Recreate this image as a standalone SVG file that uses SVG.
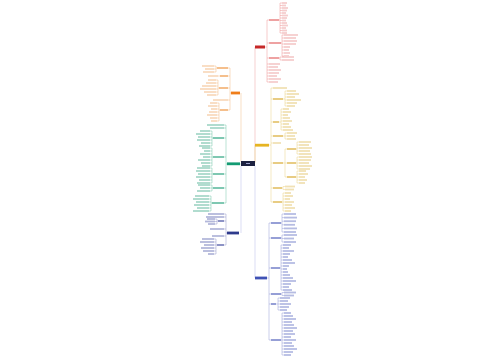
<svg xmlns="http://www.w3.org/2000/svg" width="500" height="360" viewBox="0 0 500 360">
<style>
.c{fill:none;stroke-width:.45}
.cr{stroke:#ec8a8a}.cy{stroke:#ead07a}.cb{stroke:#8a94d4}.co{stroke:#f3b67a}.cg{stroke:#66c2a4}.cn{stroke:#8a90c8}
.t{stroke-width:.6}
.lr{fill:#e57373;opacity:.35}.ly{fill:#d9ab2e;opacity:.35}.lb{fill:#4a5ab8;opacity:.4}.lo{fill:#ef9a4a;opacity:.35}.lg{fill:#1f9a74;opacity:.38}.ln{fill:#3a45a0;opacity:.38}
.sr{fill:#e05555;opacity:.55}.sy{fill:#d6a31e;opacity:.55}.sb{fill:#3f51b5;opacity:.55}.so{fill:#ec8a2e;opacity:.55}.sg{fill:#159a72;opacity:.55}.sn{fill:#2f3a95;opacity:.55}
</style>
<rect width="500" height="360" fill="#ffffff"/>
<g id="connectors">
<path class="c t" stroke="#f0b4b4" d="M255,162V47"/>
<path class="c t" stroke="#eedc98" d="M255,163V145"/>
<path class="c t" stroke="#c4c8ec" d="M255,166V278"/>
<path class="c t" stroke="#f4c9a0" d="M241,162V93"/>
<path class="c t" stroke="#9cd6c2" d="M241,164H240"/>
<path class="c t" stroke="#c4c8ec" d="M241,166V233"/>
<path class="c cr" d="M265,47h2M267,20V82M267,20h2M267,43h2M267,58h2M267,64h2M267,67h2M267,70h2M267,73h2M267,76h2M267,79h2M267,82h2
M279,20h1M280,3V33M280,3h2M280,5.5h2M280,8h2M280,10.5h2M280,13h2M280,15.5h2M280,18h2M280,20.5h2M280,23h2M280,25.5h2M280,28h2M280,30.5h2M280,33h2
M281,43h1M282,35V56M282,35h2M282,38h2M282,41h2M282,44h2M282,47h2M282,50h2M282,53h2M282,56h2
M279,58h1M280,57V60M280,57h2M280,60h2"/>
<path class="c cy" d="M269,145h2M271,88V202M271,88h2M271,99h2M271,122h2M271,136h2M271,143h2M271,163h2M271,188h2M271,202h2
M283,99h2M285,91V106M285,91h2M285,94h2M285,97h2M285,100h2M285,103h2M285,106h2
M279,122h2M281,109V130M281,109h2M281,112h2M281,115h2M281,118h2M281,121h2M281,124h2M281,127h2M281,130h2
M283,136h2M285,133V139M285,133h2M285,136h2M285,139h2
M283,163h2M285,149V177M285,149h2M285,163h2M285,177h2
M296,149h1M297,142V154M297,142h2M297,145h2M297,148h2M297,151h2M297,154h2
M296,163h1M297,157V169M297,157h2M297,160h2M297,163h2M297,166h2M297,169h2
M296,177h1M297,171V183M297,171h2M297,174h2M297,177h2M297,180h2M297,183h2
M282,188h1M283,186.5V189.5M283,186.5h2M283,189.5h2
M282,202h1M283,193V211M283,193h2M283,196h2M283,199h2M283,202h2M283,205h2M283,208h2M283,211h2"/>
<path class="c cb" d="M267,278h2M269,223V340M269,223h2M269,238h2M269,268h2M269,294h2M269,304h2M269,340h2
M281,223h1M282,214V232M282,214h2M282,217.6h2M282,221.2h2M282,224.8h2M282,228.4h2M282,232h2
M281,238h1M282,235V242M282,235h2M282,238.5h2M282,242h2
M280,268h1M281,245V290M281,245h2M281,248h2M281,251h2M281,254h2M281,257h2M281,260h2M281,263h2M281,266h2M281,269h2M281,272h2M281,275h2M281,278h2M281,281h2M281,284h2M281,287h2M281,290h2
M281,294h1M282,292.5V295.5M282,292.5h2M282,295.5h2
M276,304h2M278,298V310M278,298h2M278,301h2M278,304h2M278,307h2M278,310h2
M281,340h1M282,313V355M282,313h2M282,316h2M282,319h2M282,322h2M282,325h2M282,328h2M282,331h2M282,334h2M282,337h2M282,340h2M282,343h2M282,346h2M282,349h2M282,352h2M282,355h2"/>
<path class="c co" d="M231,93h-1M230,68V110M230,68h-2M230,76h-2M230,88h-2M230,100h-2M230,110h-2
M217,68h-1M216,66V72M216,66h-2M216,69h-2M216,72h-2
M220,76h-2
M219,88h-1M218,80V95M218,80h-2M218,83h-2M218,86h-2M218,89h-2M218,92h-2M218,95h-2
M220,110h-1M219,103V121M219,103h-2M219,106h-2M219,109h-2M219,112h-2M219,115h-2M219,118h-2M219,121h-2"/>
<path class="c cg" d="M227,164h-1M226,125V203M226,125h-2M226,128h-2M226,138h-2M226,157h-2M226,174h-2M226,188h-2M226,203h-2
M213,138h-1M212,131V146M212,131h-2M212,134h-2M212,137h-2M212,140h-2M212,143h-2M212,146h-2
M213,157h-1M212,148V166M212,148h-2M212,151h-2M212,154h-2M212,157h-2M212,160h-2M212,163h-2M212,166h-2
M213,174h-1M212,168V183M212,168h-2M212,171h-2M212,174h-2M212,177h-2M212,180h-2M212,183h-2
M213,188h-1M212,185V191M212,185h-2M212,188h-2M212,191h-2
M212,203h-1M211,196V211M211,196h-2M211,199h-2M211,202h-2M211,205h-2M211,208h-2M211,211h-2"/>
<path class="c cn" d="M227,233h-1M226,214V245M226,214h-2M226,217h-2M226,221h-2M226,229h-2M226,236h-2M226,245h-2
M218,221h-1M217,219V224M217,219h-2M217,221.5h-2M217,224h-2
M217,245h-1M216,239V254M216,239h-2M216,242h-2M216,245h-2M216,248h-2M216,251h-2M216,254h-2"/>
</g>
<g id="root"><rect x="241" y="161" width="14" height="5" fill="#1c2140"/><rect x="246" y="163" width="4" height="1" fill="#9aa0c8"/></g>
<g id="red-branch">
<rect x="255" y="45.5" width="10" height="3" fill="#c62828"/>
<rect class="sr" x="269" y="19" width="10" height="2"/><rect class="sr" x="269" y="42" width="12" height="2"/><rect class="sr" x="269" y="57" width="10" height="2"/>
<g class="lr"><rect x="269" y="63.1" width="11" height="1.8"/><rect x="269" y="66.1" width="9" height="1.8"/><rect x="269" y="69.1" width="12" height="1.8"/><rect x="269" y="72.1" width="10" height="1.8"/><rect x="269" y="75.1" width="8" height="1.8"/><rect x="269" y="78.1" width="12" height="1.8"/><rect x="269" y="81.1" width="9" height="1.8"/>
<rect x="282" y="2.1" width="5" height="1.8"/><rect x="282" y="4.6" width="4" height="1.8"/><rect x="282" y="7.1" width="6" height="1.8"/><rect x="282" y="9.6" width="5" height="1.8"/><rect x="282" y="12.1" width="4" height="1.8"/><rect x="282" y="14.6" width="6" height="1.8"/><rect x="282" y="17.1" width="5" height="1.8"/><rect x="282" y="19.6" width="4" height="1.8"/><rect x="282" y="22.1" width="5" height="1.8"/><rect x="282" y="24.6" width="6" height="1.8"/><rect x="282" y="27.1" width="4" height="1.8"/><rect x="282" y="29.6" width="5" height="1.8"/><rect x="282" y="32.1" width="5" height="1.8"/>
<rect x="284" y="34.1" width="14" height="1.8"/><rect x="284" y="37.1" width="12" height="1.8"/><rect x="284" y="40.1" width="13" height="1.8"/><rect x="284" y="43.1" width="12" height="1.8"/><rect x="284" y="46.1" width="6" height="1.8"/><rect x="284" y="49.1" width="5" height="1.8"/><rect x="284" y="52.1" width="6" height="1.8"/><rect x="284" y="55.1" width="5" height="1.8"/>
<rect x="282" y="56.1" width="12" height="1.8"/><rect x="282" y="59.1" width="12" height="1.8"/></g>
</g>
<g id="yellow-branch">
<rect x="255" y="143.8" width="14" height="2.8" fill="#e6b422"/>
<rect class="sy" x="273" y="98" width="10" height="2"/><rect class="sy" x="273" y="121" width="6" height="2"/><rect class="sy" x="273" y="135" width="10" height="2"/><rect class="sy" x="273" y="162" width="10" height="2"/><rect class="sy" x="273" y="187" width="9" height="2"/><rect class="sy" x="273" y="201" width="9" height="2"/>
<rect class="sy" x="287" y="148" width="9" height="2"/><rect class="sy" x="287" y="162" width="9" height="2"/><rect class="sy" x="287" y="176" width="9" height="2"/>
<g class="ly"><rect x="273" y="87.1" width="14" height="1.8"/><rect x="273" y="142.1" width="8" height="1.8"/>
<rect x="287" y="90.1" width="9" height="1.8"/><rect x="287" y="93.1" width="12" height="1.8"/><rect x="287" y="96.1" width="8" height="1.8"/><rect x="287" y="99.1" width="14" height="1.8"/><rect x="287" y="102.1" width="10" height="1.8"/><rect x="287" y="105.1" width="8" height="1.8"/>
<rect x="283" y="108.1" width="6" height="1.8"/><rect x="283" y="111.1" width="8" height="1.8"/><rect x="283" y="114.1" width="5" height="1.8"/><rect x="283" y="117.1" width="7" height="1.8"/><rect x="283" y="120.1" width="9" height="1.8"/><rect x="283" y="123.1" width="6" height="1.8"/><rect x="283" y="126.1" width="8" height="1.8"/><rect x="283" y="129.1" width="10" height="1.8"/>
<rect x="287" y="132.1" width="10" height="1.8"/><rect x="287" y="135.1" width="8" height="1.8"/><rect x="287" y="138.1" width="9" height="1.8"/>
<rect x="299" y="141.1" width="12" height="1.8"/><rect x="299" y="144.1" width="10" height="1.8"/><rect x="299" y="147.1" width="13" height="1.8"/><rect x="299" y="150.1" width="11" height="1.8"/><rect x="299" y="153.1" width="12" height="1.8"/>
<rect x="299" y="156.1" width="13" height="1.8"/><rect x="299" y="159.1" width="12" height="1.8"/><rect x="299" y="162.1" width="10" height="1.8"/><rect x="299" y="165.1" width="13" height="1.8"/><rect x="299" y="168.1" width="11" height="1.8"/>
<rect x="299" y="170.1" width="7" height="1.8"/><rect x="299" y="173.1" width="9" height="1.8"/><rect x="299" y="176.1" width="6" height="1.8"/><rect x="299" y="179.1" width="8" height="1.8"/><rect x="299" y="182.1" width="6" height="1.8"/>
<rect x="285" y="185.6" width="10" height="1.8"/><rect x="285" y="188.6" width="9" height="1.8"/>
<rect x="285" y="192.1" width="6" height="1.8"/><rect x="285" y="195.1" width="8" height="1.8"/><rect x="285" y="198.1" width="5" height="1.8"/><rect x="285" y="201.1" width="9" height="1.8"/><rect x="285" y="204.1" width="7" height="1.8"/><rect x="285" y="207.1" width="10" height="1.8"/><rect x="285" y="210.1" width="6" height="1.8"/></g>
</g>
<g id="blue-branch">
<rect x="255" y="276.6" width="12" height="2.8" fill="#3f51b5"/>
<rect class="sb" x="271" y="222" width="10" height="2"/><rect class="sb" x="271" y="237" width="10" height="2"/><rect class="sb" x="271" y="267" width="9" height="2"/><rect class="sb" x="271" y="293" width="10" height="2"/><rect class="sb" x="271" y="303" width="5" height="2"/><rect class="sb" x="271" y="339" width="10" height="2"/>
<g class="lb"><rect x="284" y="213.1" width="12" height="1.8"/><rect x="284" y="216.7" width="13" height="1.8"/><rect x="284" y="220.3" width="12" height="1.8"/><rect x="284" y="223.9" width="11" height="1.8"/><rect x="284" y="227.5" width="13" height="1.8"/><rect x="284" y="231.1" width="12" height="1.8"/>
<rect x="284" y="234.1" width="13" height="1.8"/><rect x="284" y="237.6" width="10" height="1.8"/><rect x="284" y="241.1" width="12" height="1.8"/>
<rect x="283" y="244.1" width="8" height="1.8"/><rect x="283" y="247.1" width="6" height="1.8"/><rect x="283" y="250.1" width="11" height="1.8"/><rect x="283" y="253.1" width="7" height="1.8"/><rect x="283" y="256.1" width="5" height="1.8"/><rect x="283" y="259.1" width="9" height="1.8"/><rect x="283" y="262.1" width="12" height="1.8"/><rect x="283" y="265.1" width="6" height="1.8"/><rect x="283" y="268.1" width="4" height="1.8"/><rect x="283" y="271.1" width="5" height="1.8"/><rect x="283" y="274.1" width="7" height="1.8"/><rect x="283" y="277.1" width="10" height="1.8"/><rect x="283" y="280.1" width="13" height="1.8"/><rect x="283" y="283.1" width="8" height="1.8"/><rect x="283" y="286.1" width="6" height="1.8"/><rect x="283" y="289.1" width="9" height="1.8"/>
<rect x="284" y="291.6" width="12" height="1.8"/><rect x="284" y="294.6" width="10" height="1.8"/>
<rect x="280" y="297.1" width="10" height="1.8"/><rect x="280" y="300.1" width="8" height="1.8"/><rect x="280" y="303.1" width="11" height="1.8"/><rect x="280" y="306.1" width="9" height="1.8"/><rect x="280" y="309.1" width="7" height="1.8"/>
<rect x="284" y="312.1" width="7" height="1.8"/><rect x="284" y="315.1" width="9" height="1.8"/><rect x="284" y="318.1" width="12" height="1.8"/><rect x="284" y="321.1" width="8" height="1.8"/><rect x="284" y="324.1" width="10" height="1.8"/><rect x="284" y="327.1" width="13" height="1.8"/><rect x="284" y="330.1" width="9" height="1.8"/><rect x="284" y="333.1" width="11" height="1.8"/><rect x="284" y="336.1" width="7" height="1.8"/><rect x="284" y="339.1" width="12" height="1.8"/><rect x="284" y="342.1" width="8" height="1.8"/><rect x="284" y="345.1" width="10" height="1.8"/><rect x="284" y="348.1" width="13" height="1.8"/><rect x="284" y="351.1" width="9" height="1.8"/><rect x="284" y="354.1" width="7" height="1.8"/></g>
</g>
<g id="orange-branch">
<rect x="231" y="91.6" width="9" height="2.8" fill="#ef7d1a"/>
<rect class="so" x="217" y="67" width="11" height="2"/><rect class="so" x="220" y="75" width="8" height="2"/><rect class="so" x="219" y="87" width="9" height="2"/><rect class="so" x="220" y="109" width="8" height="2"/>
<g class="lo"><rect x="213" y="99.1" width="15" height="1.8"/><rect x="208" y="75.1" width="10" height="1.8"/>
<rect x="202" y="65.1" width="12" height="1.8"/><rect x="205" y="68.1" width="9" height="1.8"/><rect x="203" y="71.1" width="11" height="1.8"/>
<rect x="208" y="79.1" width="8" height="1.8"/><rect x="206" y="82.1" width="10" height="1.8"/><rect x="202" y="85.1" width="14" height="1.8"/><rect x="200" y="88.1" width="16" height="1.8"/><rect x="204" y="91.1" width="12" height="1.8"/><rect x="207" y="94.1" width="9" height="1.8"/>
<rect x="210" y="102.1" width="7" height="1.8"/><rect x="208" y="105.1" width="9" height="1.8"/><rect x="211" y="108.1" width="6" height="1.8"/><rect x="209" y="111.1" width="8" height="1.8"/><rect x="207" y="114.1" width="10" height="1.8"/><rect x="210" y="117.1" width="7" height="1.8"/><rect x="211" y="120.1" width="6" height="1.8"/></g>
</g>
<g id="green-branch">
<rect x="227" y="162.4" width="13" height="2.8" fill="#139b73"/>
<rect class="sg" x="213" y="137" width="11" height="2"/><rect class="sg" x="213" y="156" width="11" height="2"/><rect class="sg" x="213" y="173" width="11" height="2"/><rect class="sg" x="213" y="187" width="11" height="2"/><rect class="sg" x="212" y="202" width="12" height="2"/>
<g class="lg"><rect x="207" y="124.1" width="17" height="1.8"/><rect x="210" y="127.1" width="14" height="1.8"/>
<rect x="200" y="130.1" width="10" height="1.8"/><rect x="196" y="133.1" width="14" height="1.8"/><rect x="198" y="136.1" width="12" height="1.8"/><rect x="197" y="139.1" width="13" height="1.8"/><rect x="201" y="142.1" width="9" height="1.8"/><rect x="199" y="145.1" width="11" height="1.8"/>
<rect x="202" y="147.1" width="8" height="1.8"/><rect x="204" y="150.1" width="6" height="1.8"/><rect x="200" y="153.1" width="10" height="1.8"/><rect x="203" y="156.1" width="7" height="1.8"/><rect x="198" y="159.1" width="12" height="1.8"/><rect x="201" y="162.1" width="9" height="1.8"/><rect x="202" y="165.1" width="8" height="1.8"/>
<rect x="197" y="167.1" width="13" height="1.8"/><rect x="196" y="170.1" width="14" height="1.8"/><rect x="198" y="173.1" width="12" height="1.8"/><rect x="196" y="176.1" width="14" height="1.8"/><rect x="199" y="179.1" width="11" height="1.8"/><rect x="197" y="182.1" width="13" height="1.8"/>
<rect x="198" y="184.1" width="12" height="1.8"/><rect x="200" y="187.1" width="10" height="1.8"/><rect x="197" y="190.1" width="13" height="1.8"/>
<rect x="195" y="195.1" width="14" height="1.8"/><rect x="193" y="198.1" width="16" height="1.8"/><rect x="196" y="201.1" width="13" height="1.8"/><rect x="194" y="204.1" width="15" height="1.8"/><rect x="197" y="207.1" width="12" height="1.8"/><rect x="193" y="210.1" width="16" height="1.8"/></g>
</g>
<g id="navy-branch">
<rect x="227" y="231.6" width="12" height="2.8" fill="#2e3a8c"/>
<rect class="sn" x="218" y="220" width="6" height="2"/><rect class="sn" x="217" y="244" width="7" height="2"/>
<g class="ln"><rect x="208" y="213.1" width="16" height="1.8"/><rect x="206" y="216.1" width="18" height="1.8"/><rect x="210" y="228.1" width="14" height="1.8"/><rect x="212" y="235.1" width="12" height="1.8"/>
<rect x="207" y="218.1" width="8" height="1.8"/><rect x="205" y="220.6" width="10" height="1.8"/><rect x="208" y="223.1" width="7" height="1.8"/>
<rect x="202" y="238.1" width="12" height="1.8"/><rect x="200" y="241.1" width="14" height="1.8"/><rect x="204" y="244.1" width="10" height="1.8"/><rect x="201" y="247.1" width="13" height="1.8"/><rect x="203" y="250.1" width="11" height="1.8"/><rect x="208" y="253.1" width="6" height="1.8"/></g>
</g>
</svg>
